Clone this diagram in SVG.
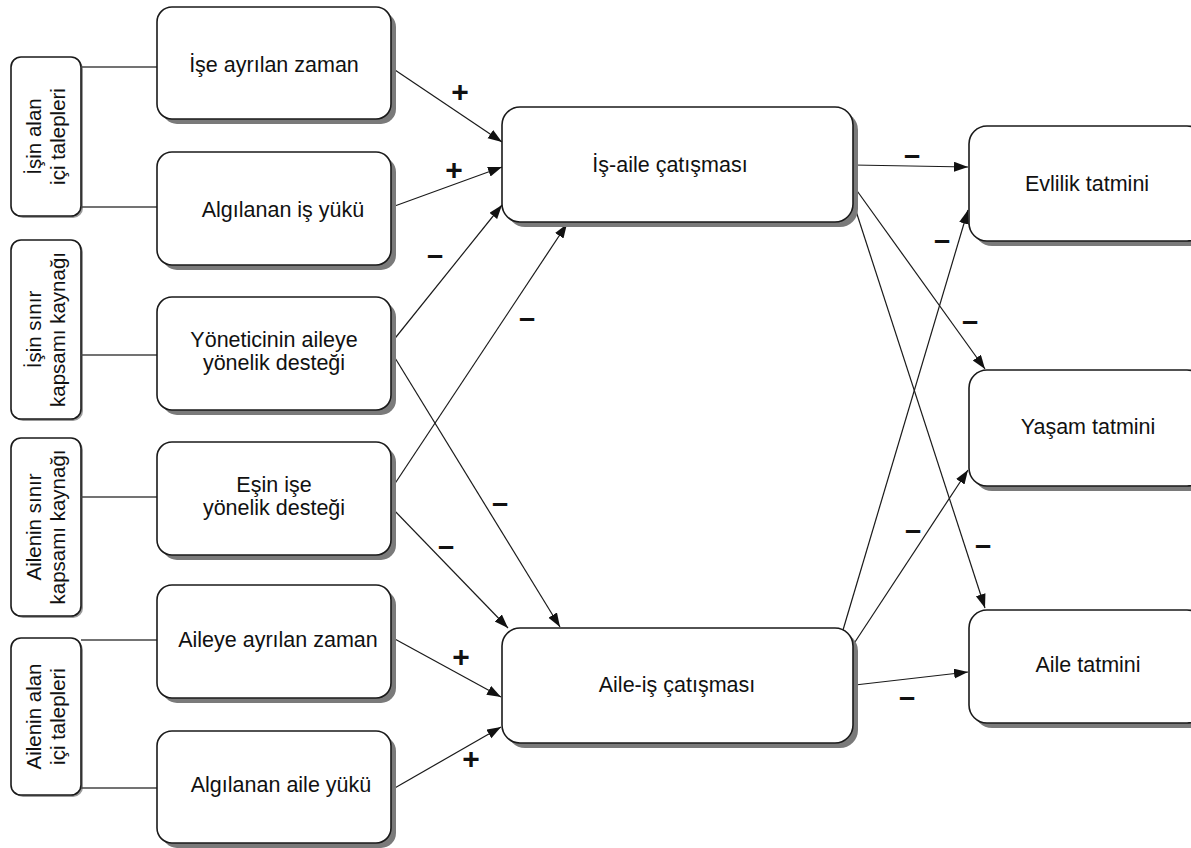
<svg xmlns="http://www.w3.org/2000/svg" width="1191" height="848" viewBox="0 0 1191 848">
<style>
.box{fill:#fff;stroke:#1a1a1a;stroke-width:1.6}
.sh{fill:#7a7a7a}
.shc{fill:#9a9a9a}
.t{font-family:"Liberation Sans",Arial,sans-serif;font-size:21.5px;fill:#111;text-anchor:middle}
.ct{font-family:"Liberation Sans",Arial,sans-serif;font-size:20.5px;fill:#111;text-anchor:middle}
.lnk{stroke:#444;stroke-width:1.3;fill:none}
.arr{stroke:#1a1a1a;stroke-width:1.2;fill:none;marker-end:url(#ah)}
.sg{font-family:"Liberation Sans",Arial,sans-serif;font-weight:bold;fill:#111;text-anchor:middle}
.pl{font-size:30px}
.mn{font-size:29px}
</style>
<defs>
<marker id="ah" markerUnits="userSpaceOnUse" markerWidth="15" markerHeight="11" refX="14" refY="5" orient="auto">
<path d="M0,0 L14,5 L0,10 z" fill="#111"/>
</marker>
</defs>
<rect width="1191" height="848" fill="#fff"/>

<g id="c1">
<rect class="shc" x="13" y="59" width="70" height="159" rx="10"/>
<rect class="box" x="11" y="57" width="70" height="159" rx="10"/>
<text class="ct" transform="translate(41,136.5) rotate(-90)">İşin alan</text>
<text class="ct" transform="translate(65,136.5) rotate(-90)">içi talepleri</text>
</g>
<g id="c2">
<rect class="shc" x="13" y="242" width="70" height="179" rx="10"/>
<rect class="box" x="11" y="240" width="70" height="179" rx="10"/>
<text class="ct" transform="translate(41,329.5) rotate(-90)">İşin sınır</text>
<text class="ct" transform="translate(65,329.5) rotate(-90)">kapsamı kaynağı</text>
</g>
<g id="c3">
<rect class="shc" x="13" y="440" width="70" height="178" rx="10"/>
<rect class="box" x="11" y="438" width="70" height="178" rx="10"/>
<text class="ct" transform="translate(41,527) rotate(-90)">Ailenin sınır</text>
<text class="ct" transform="translate(65,527) rotate(-90)">kapsamı kaynağı</text>
</g>
<g id="c4">
<rect class="shc" x="13" y="640" width="70" height="157" rx="10"/>
<rect class="box" x="11" y="638" width="70" height="157" rx="10"/>
<text class="ct" transform="translate(41,716.5) rotate(-90)">Ailenin alan</text>
<text class="ct" transform="translate(65,716.5) rotate(-90)">içi talepleri</text>
</g>

<g id="connectors">
<line class="lnk" x1="81" y1="67" x2="157" y2="67"/>
<line class="lnk" x1="81" y1="207" x2="157" y2="207"/>
<line class="lnk" x1="81" y1="355" x2="157" y2="355"/>
<line class="lnk" x1="81" y1="497" x2="157" y2="497"/>
<line class="lnk" x1="81" y1="640" x2="157" y2="640"/>
<line class="lnk" x1="81" y1="788" x2="157" y2="788"/>

<line class="arr" x1="392" y1="68" x2="502" y2="142"/>
<line class="arr" x1="392" y1="207" x2="502" y2="167"/>
<line class="arr" x1="392" y1="342" x2="502" y2="205"/>
<line class="arr" x1="392" y1="488" x2="567" y2="224"/>
<line class="arr" x1="392" y1="353" x2="560" y2="627"/>
<line class="arr" x1="392" y1="508" x2="508" y2="628"/>
<line class="arr" x1="393" y1="638" x2="501" y2="697"/>
<line class="arr" x1="393" y1="789" x2="501" y2="727"/>
<line class="arr" x1="853" y1="165" x2="968" y2="167"/>
<line class="arr" x1="855" y1="188" x2="985" y2="369"/>
<line class="arr" x1="855" y1="208" x2="985" y2="608"/>
<line class="arr" x1="843" y1="630" x2="968" y2="210"/>
<line class="arr" x1="853" y1="645" x2="968" y2="470"/>
<line class="arr" x1="855" y1="685" x2="968" y2="672"/>

<text class="sg pl" x="460" y="102">+</text>
<text class="sg pl" x="454" y="180">+</text>
<text class="sg pl" x="461" y="667">+</text>
<text class="sg pl" x="471" y="769">+</text>
<text class="sg mn" x="435" y="265">–</text>
<text class="sg mn" x="527" y="328">–</text>
<text class="sg mn" x="500" y="513">–</text>
<text class="sg mn" x="446" y="556">–</text>
<text class="sg mn" x="912" y="165">–</text>
<text class="sg mn" x="942" y="250">–</text>
<text class="sg mn" x="970" y="331">–</text>
<text class="sg mn" x="913" y="540">–</text>
<text class="sg mn" x="983" y="555">–</text>
<text class="sg mn" x="907" y="707">–</text>
</g>

<g id="n_ise">
<rect class="sh" x="162" y="12" width="234" height="112" rx="15"/>
<rect class="box" x="157" y="7" width="234" height="112" rx="15"/>
<text class="t" x="274" y="72">İşe ayrılan zaman</text>
</g>
<g id="n_isyuku">
<rect class="sh" x="162" y="157" width="234" height="113" rx="15"/>
<rect class="box" x="157" y="152" width="234" height="113" rx="15"/>
<text class="t" x="283" y="217">Algılanan iş yükü</text>
</g>
<g id="n_yonetici">
<rect class="sh" x="162" y="302" width="234" height="113" rx="15"/>
<rect class="box" x="157" y="297" width="234" height="113" rx="15"/>
<text class="t" x="274" y="347">Yöneticinin aileye</text>
<text class="t" x="274" y="370">yönelik desteği</text>
</g>
<g id="n_esin">
<rect class="sh" x="162" y="447" width="234" height="113" rx="15"/>
<rect class="box" x="157" y="442" width="234" height="113" rx="15"/>
<text class="t" x="274" y="492">Eşin işe</text>
<text class="t" x="274" y="515">yönelik desteği</text>
</g>
<g id="n_aileye">
<rect class="sh" x="162" y="590" width="234" height="113" rx="15"/>
<rect class="box" x="157" y="585" width="234" height="113" rx="15"/>
<text class="t" x="278" y="647">Aileye ayrılan zaman</text>
</g>
<g id="n_aileyuku">
<rect class="sh" x="162" y="736" width="234" height="112" rx="15"/>
<rect class="box" x="157" y="731" width="234" height="112" rx="15"/>
<text class="t" x="281" y="792">Algılanan aile yükü</text>
</g>

<g id="n_isaile">
<rect class="sh" x="507" y="112" width="351" height="115" rx="18"/>
<rect class="box" x="502" y="107" width="351" height="115" rx="18"/>
<text class="t" x="670" y="172">İş-aile çatışması</text>
</g>
<g id="n_aileis">
<rect class="sh" x="507" y="633" width="351" height="115" rx="18"/>
<rect class="box" x="502" y="628" width="351" height="115" rx="18"/>
<text class="t" x="677" y="692">Aile-iş çatışması</text>
</g>

<g id="n_evlilik">
<rect class="sh" x="974" y="131" width="236" height="115" rx="18"/>
<rect class="box" x="969" y="126" width="236" height="115" rx="18"/>
<text class="t" x="1087" y="191">Evlilik tatmini</text>
</g>
<g id="n_yasam">
<rect class="sh" x="974" y="375" width="236" height="116" rx="18"/>
<rect class="box" x="969" y="370" width="236" height="116" rx="18"/>
<text class="t" x="1088" y="434">Yaşam tatmini</text>
</g>
<g id="n_aile">
<rect class="sh" x="974" y="615" width="236" height="113" rx="18"/>
<rect class="box" x="969" y="610" width="236" height="113" rx="18"/>
<text class="t" x="1088" y="672">Aile tatmini</text>
</g>
</svg>
